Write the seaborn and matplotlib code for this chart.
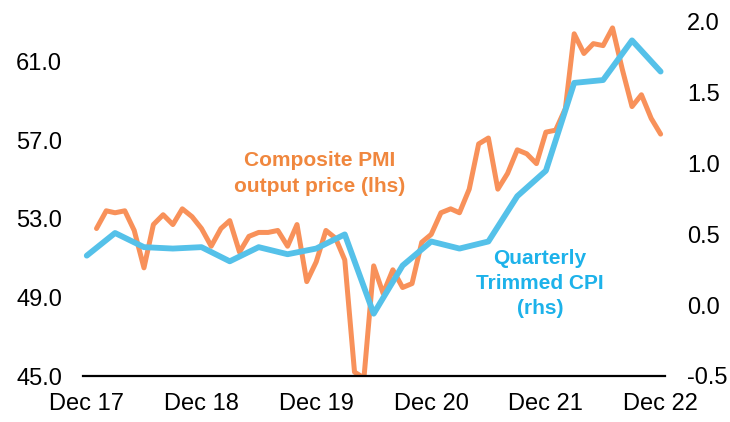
import matplotlib
matplotlib.use("Agg")
import matplotlib.pyplot as plt
import matplotlib.dates as mdates
import numpy as np
import pandas as pd
import seaborn as sns

## data
pmi_dates = pd.date_range("2018-01-01", periods=60, freq="MS")
pmi_values = [52.5, 53.4, 53.3, 53.4, 52.4, 50.5, 52.7, 53.2, 52.7, 53.5, 53.1, 52.5,
              51.6, 52.5, 52.9, 51.3, 52.1, 52.3, 52.3, 52.4, 51.6, 52.7, 49.8, 50.8,
              52.4, 52.0, 50.9, 45.2, 44.9, 50.6, 49.2, 50.4, 49.5, 49.7, 51.8, 52.2,
              53.3, 53.5, 53.3, 54.5, 56.8, 57.1, 54.5, 55.3, 56.5, 56.3, 55.8, 57.4,
              57.5, 58.6, 62.4, 61.4, 61.9, 61.8, 62.7, 60.6, 58.7, 59.3, 58.1, 57.3]

cpi_dates = pd.date_range("2017-12-01", "2022-12-01", freq="3MS")
cpi_values = [0.35, 0.51, 0.41, 0.40, 0.41, 0.31, 0.41, 0.36, 0.40, 0.50, -0.06,
              0.28, 0.45, 0.40, 0.45, 0.77, 0.95, 1.57, 1.59, 1.87, 1.65]

tick_dates = pd.date_range("2017-12-01", periods=6, freq="12MS")
left_ticks = [45, 49, 53, 57, 61]
right_ticks = [-0.5, 0.0, 0.5, 1.0, 1.5, 2.0]

orange = "#F8915A"
orange_txt = "#F0873E"
blue = "#55C1E9"
blue_txt = "#1DB2EA"

sns.set_style("white")
plt.rcParams['font.family'] = ['Liberation Sans', 'DejaVu Sans']
plt.rcParams['axes.unicode_minus'] = False

fig = plt.figure(figsize=(7.3, 4.22), dpi=100)
ax = fig.add_axes([83 / 730, 1 - 376 / 422, (665 - 83) / 730, (376 - 22) / 422])
ax2 = ax.twinx()

sns.lineplot(x=pmi_dates, y=pmi_values, ax=ax, color=orange, linewidth=3.6)
sns.lineplot(x=cpi_dates, y=cpi_values, ax=ax2, color=blue, linewidth=4.2)

## axes limits and ticks
ax.set_xlim(pd.Timestamp("2017-11-19"), pd.Timestamp("2022-12-15"))
ax.set_ylim(45, 63)
ax.set_yticks(left_ticks)
ax.set_yticklabels([f"{v:.1f}" for v in left_ticks])
ax2.set_ylim(-0.5, 2.0)
ax2.set_yticks(right_ticks)
ax2.set_yticklabels([f"{v:.1f}" for v in right_ticks])
ax.set_xticks(tick_dates)
ax.xaxis.set_major_formatter(mdates.DateFormatter("Dec %y"))

for a in (ax, ax2):
    for s in ("top", "left", "right", "bottom"):
        a.spines[s].set_visible(False)
    a.set_xlabel("")
    a.set_ylabel("")
ax.spines["bottom"].set_visible(True)
ax.spines["bottom"].set_color("black")
ax.spines["bottom"].set_linewidth(1.6)

ax.tick_params(axis="y", length=0, pad=15, labelsize=17, labelcolor="black")
ax2.tick_params(axis="y", length=0, pad=16, labelsize=17, labelcolor="black")
ax.tick_params(axis="x", length=0, pad=12, labelsize=17, labelcolor="black")

## labels
ax.text(pd.Timestamp("2019-12-13"), 55.3, "Composite PMI\noutput price (lhs)",
        color=orange_txt, fontsize=15, fontweight="bold", ha="center", va="center",
        linespacing=1.45)
ax2.text(pd.Timestamp("2021-11-12"), 0.15, "Quarterly\nTrimmed CPI\n(rhs)",
         color=blue_txt, fontsize=15, fontweight="bold", ha="center", va="center",
         linespacing=1.4)

fig.savefig("out.png", dpi=100)
